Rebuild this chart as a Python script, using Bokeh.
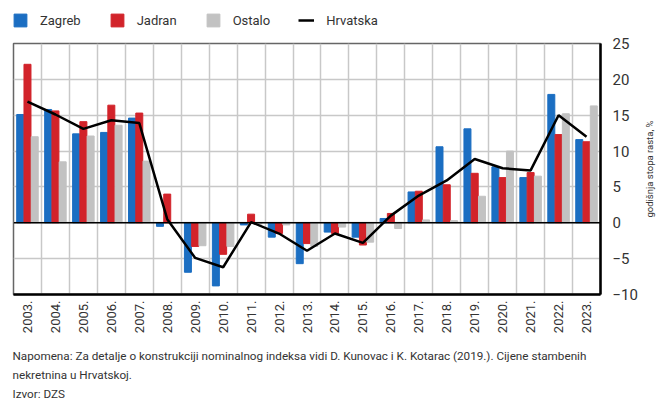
import math
from bokeh.plotting import figure
from bokeh.layouts import column, row
from bokeh.models import (ColumnDataSource, FixedTicker, Span, Legend, LegendItem, Label)
from bokeh.transform import dodge
from bokeh.embed import file_html
from bokeh.resources import INLINE

years = [2003, 2004, 2005, 2006, 2007, 2008, 2009, 2010, 2011, 2012, 2013,
         2014, 2015, 2016, 2017, 2018, 2019, 2020, 2021, 2022, 2023]
zagreb = [15.1, 15.8, 12.4, 12.6, 14.6, -0.5, -6.9, -8.8, -0.3, -2.0, -5.7,
          -1.3, -2.0, 0.6, 4.3, 10.6, 13.1, 7.8, 6.3, 17.9, 11.6]
jadran = [22.1, 15.6, 14.1, 16.4, 15.3, 4.0, -3.3, -4.4, 1.2, -1.5, -2.9,
          -1.5, -3.1, 1.3, 4.4, 5.3, 6.9, 6.3, 7.0, 12.3, 11.3]
ostalo = [12.0, 8.5, 12.1, 13.6, 8.6, 0.0, -3.2, -3.3, -0.2, -0.3, -3.3,
          -0.6, -2.7, -0.8, 0.4, 0.3, 3.7, 10.0, 6.5, 15.2, 16.3]
hrvatska = [16.9, 15.1, 13.1, 14.3, 13.9, 0.5, -4.9, -6.2, 0.1, -1.5, -3.9,
            -1.5, -2.8, 1.0, 3.8, 5.9, 8.9, 7.6, 7.3, 15.0, 12.0]
series_names = ["Zagreb", "Jadran", "Ostalo", "Hrvatska"]
year_labels = [f"{y}." for y in years]
y_ticks = [-10, -5, 0, 5, 10, 15, 20, 25]
y_title = "godišnja stopa rasta, %"
notes = ["Napomena: Za detalje o konstrukciji nominalnog indeksa vidi D. Kunovac i K. Kotarac (2019.). Cijene stambenih",
         "nekretnina u Hrvatskoj.",
         "Izvor: DZS"]

FONT = "Roboto"
BLUE = "#1b6ec2"
RED = "#d2232a"
GRAY = "#c2c2c2"
TXT = "#333333"


def blank(width, height, xr=(0, 1), yr=(0, 1)):
    f = figure(width=width, height=height, output_backend="svg", toolbar_location=None,
               x_axis_type=None, y_axis_type=None, min_border=0,
               x_range=xr, y_range=yr)
    f.outline_line_color = None
    f.grid.visible = False
    return f


# ---------------- main chart ----------------
idx = list(range(len(years)))
src = ColumnDataSource(dict(x=idx, zagreb=zagreb, jadran=jadran, ostalo=ostalo, hrvatska=hrvatska))

p = figure(width=640, height=308, output_backend="svg", toolbar_location=None,
           x_range=(-0.5, len(years) - 0.5), y_range=(-10, 25),
           y_axis_location="right",
           min_border_left=13, min_border_right=35, min_border_top=8, min_border_bottom=49)

w = 0.25
p.vbar(x=dodge("x", -0.26), top="zagreb", width=w, source=src, color=BLUE)
p.vbar(x=dodge("x", 0.0), top="jadran", width=w, source=src, color=RED)
p.vbar(x=dodge("x", 0.26), top="ostalo", width=w, source=src, color=GRAY)
p.add_layout(Span(location=0, dimension="width", line_color="black", line_width=1.5))
p.line(x="x", y="hrvatska", source=src, line_color="black", line_width=2.5)

p.xgrid.ticker = FixedTicker(ticks=[i + 0.5 for i in idx[:-1]])
p.ygrid.ticker = FixedTicker(ticks=y_ticks)
p.xgrid.grid_line_color = "#c8c8c8"
p.ygrid.grid_line_color = "#c8c8c8"
p.xgrid.grid_line_width = 1.5
p.ygrid.grid_line_width = 1.5
p.outline_line_color = "#666666"
p.outline_line_width = 1.5

xa = p.xaxis[0]
xa.ticker = FixedTicker(ticks=idx)
xa.major_label_overrides = {i: lab for i, lab in zip(idx, year_labels)}
xa.major_label_orientation = math.pi / 2
xa.major_label_text_font = FONT
xa.major_label_text_font_size = "13px"
xa.major_label_text_color = TXT
xa.major_label_standoff = 6
xa.major_tick_out = 0
xa.major_tick_in = 0
xa.minor_tick_out = 0
xa.minor_tick_in = 0
xa.axis_line_color = "black"
xa.axis_line_width = 2.5

ya = p.yaxis[0]
ya.ticker = FixedTicker(ticks=y_ticks)
ya.major_label_overrides = {t: (str(t).replace("-", "\u2212")) for t in y_ticks}
ya.major_label_text_font = FONT
ya.major_label_text_font_size = "15px"
ya.major_label_text_color = TXT
ya.major_label_standoff = 12
ya.major_tick_out = 0
ya.major_tick_in = 0
ya.minor_tick_out = 0
ya.minor_tick_in = 0
ya.axis_line_color = "black"
ya.axis_line_width = 2.5

# ---------------- right-hand axis title (axis label of a bounded left axis) ----------------
rt = figure(width=16, height=308, output_backend="svg", toolbar_location=None,
            x_axis_type=None, min_border=0, x_range=(0, 1), y_range=(0, 308))
rt.outline_line_color = None
rt.grid.visible = False
ra = rt.yaxis[0]
ra.bounds = (203, 303)
ra.ticker = FixedTicker(ticks=[250])
ra.major_label_overrides = {250: ""}
ra.major_label_text_font_size = "1px"
ra.major_label_standoff = 0
ra.major_tick_out = 0
ra.major_tick_in = 0
ra.minor_tick_out = 0
ra.minor_tick_in = 0
ra.axis_line_color = None
ra.axis_label = y_title
ra.axis_label_standoff = 2
ra.axis_label_text_font = FONT
ra.axis_label_text_font_size = "9.5px"
ra.axis_label_text_font_style = "normal"
ra.axis_label_text_color = TXT

# ---------------- legend strip (proxies kept out of view) ----------------
lg = blank(656, 35, xr=(1000, 1001), yr=(1000, 1001))
g1 = lg.vbar(x="x", top="zagreb", width=0.1, source=src, color=BLUE)
g2 = lg.vbar(x="x", top="jadran", width=0.1, source=src, color=RED)
g3 = lg.vbar(x="x", top="ostalo", width=0.1, source=src, color=GRAY)
g4 = lg.line(x="x", y="hrvatska", source=src, line_color="black", line_width=2.5)
legend = Legend(items=[LegendItem(label=n, renderers=[r]) for n, r in zip(series_names, [g1, g2, g3, g4])],
                orientation="horizontal", location=(12, 7),
                padding=0, margin=0, spacing=28, label_standoff=12,
                glyph_width=16, glyph_height=16,
                label_text_font=FONT, label_text_font_size="13px", label_text_color=TXT,
                background_fill_alpha=0, border_line_alpha=0)
lg.add_layout(legend)

# ---------------- notes strip ----------------
nt = blank(656, 59)
for k, t in enumerate(notes):
    nt.add_layout(Label(x=12, y=47 - 19 * k, x_units="screen", y_units="screen", text=t,
                        text_align="left", text_baseline="middle",
                        text_font=FONT, text_font_size="11.7px", text_color=TXT))

layout = column(lg, row(p, rt), nt)
open("out.html", "w").write(file_html(layout, INLINE))
